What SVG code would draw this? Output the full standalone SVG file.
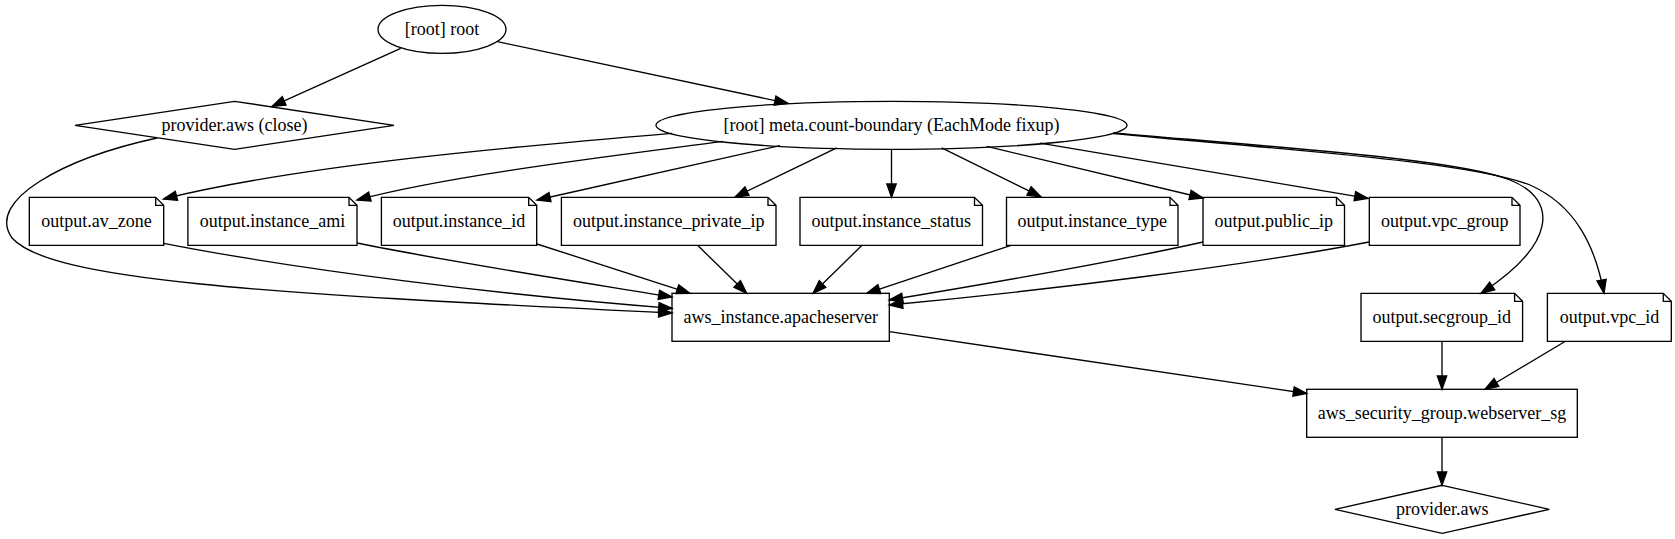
<svg xmlns="http://www.w3.org/2000/svg" width="1675" height="539" viewBox="0 0 1675 539">
<style>
.n{fill:none;stroke:#000;stroke-width:1.33}
.e{fill:none;stroke:#000;stroke-width:1.33;marker-end:url(#ah)}
text{font-family:"Liberation Serif","Times New Roman",serif;font-size:18px;text-anchor:middle;fill:#000}
</style>
<defs>
<marker id="ah" markerUnits="userSpaceOnUse" markerWidth="16" markerHeight="12" refX="13.33" refY="5" orient="auto" overflow="visible">
<path d="M0,0.33 L13.33,5 L0,9.67 Z" fill="#000" stroke="#000" stroke-width="1.33"/>
</marker>
</defs>
<rect width="1675" height="539" fill="#fff"/>
<g id="edges">
<path class="e" d="M400.7,48.3 L272,106.4"/>
<path class="e" d="M497.5,41.7 L788,103.4"/>
<path class="e" d="M157,138 C65,158 -15,200 12,238 C50,280 250,293 672,313"/>
<path class="e" d="M672,133.3 C520,146 300,165 163.5,199"/>
<path class="e" d="M723,141.3 C620,155 450,175 357,200"/>
<path class="e" d="M780,145.6 L537,200"/>
<path class="e" d="M836.7,147.8 L735,197"/>
<path class="e" d="M891.5,149.3 L891.5,197.3"/>
<path class="e" d="M941.7,147.9 L1041,196.8"/>
<path class="e" d="M986.7,146.4 L1203,198"/>
<path class="e" d="M1040,143.1 L1368,198.3"/>
<path class="e" d="M1113,132.8 C1300,149 1460,160 1510,180 C1560,200 1555,245 1481,293.3"/>
<path class="e" d="M1113,133.5 C1300,151 1470,162 1530,185 C1575,205 1595,245 1604,293.3"/>
<path class="e" d="M163.7,243.3 C300,270 500,295 672,308.3"/>
<path class="e" d="M357,243 C450,262 580,282 672,297"/>
<path class="e" d="M537,244 L690,293.3"/>
<path class="e" d="M697.6,245.3 L746.7,293.3"/>
<path class="e" d="M862,245.3 L813,293.3"/>
<path class="e" d="M1011,245.3 L866.7,293.3"/>
<path class="e" d="M1203,242 C1100,265 980,285 889.3,300"/>
<path class="e" d="M1369,242 C1250,265 1050,290 889.3,305"/>
<path class="e" d="M889.3,331.7 L1306.7,393.5"/>
<path class="e" d="M1442,341.3 L1442,389.3"/>
<path class="e" d="M1565,341.5 L1485,389.3"/>
<path class="e" d="M1442,437.3 L1442,485.3"/>
</g>
<g id="root">
<ellipse class="n" cx="442" cy="29.3" rx="64" ry="24"/>
<text x="442" y="35">[root] root</text>
</g>
<g id="provider_close">
<polygon class="n" points="234.5,101.3 394,125.3 234.5,149.3 75,125.3"/>
<text x="234.5" y="131">provider.aws (close)</text>
</g>
<g id="meta">
<ellipse class="n" cx="891.5" cy="125.3" rx="235.5" ry="24"/>
<text x="891.5" y="131">[root] meta.count-boundary (EachMode fixup)</text>
</g>
<g id="out_av_zone">
<path class="n" d="M29.3,197.3 H155.7 L163.7,205.3 V245.3 H29.3 Z M155.7,197.3 V205.3 H163.7"/>
<text x="96.5" y="227">output.av_zone</text>
</g>
<g id="out_instance_ami">
<path class="n" d="M187.9,197.3 H349 L357,205.3 V245.3 H187.9 Z M349,197.3 V205.3 H357"/>
<text x="272.5" y="227">output.instance_ami</text>
</g>
<g id="out_instance_id">
<path class="n" d="M381.4,197.3 H528.7 L536.7,205.3 V245.3 H381.4 Z M528.7,197.3 V205.3 H536.7"/>
<text x="459" y="227">output.instance_id</text>
</g>
<g id="out_instance_private_ip">
<path class="n" d="M561.4,197.3 H768 L776,205.3 V245.3 H561.4 Z M768,197.3 V205.3 H776"/>
<text x="668.7" y="227">output.instance_private_ip</text>
</g>
<g id="out_instance_status">
<path class="n" d="M800,197.3 H974.5 L982.5,205.3 V245.3 H800 Z M974.5,197.3 V205.3 H982.5"/>
<text x="891.2" y="227">output.instance_status</text>
</g>
<g id="out_instance_type">
<path class="n" d="M1006.5,197.3 H1170 L1178,205.3 V245.3 H1006.5 Z M1170,197.3 V205.3 H1178"/>
<text x="1092.2" y="227">output.instance_type</text>
</g>
<g id="out_public_ip">
<path class="n" d="M1203,197.3 H1336.5 L1344.5,205.3 V245.3 H1203 Z M1336.5,197.3 V205.3 H1344.5"/>
<text x="1273.7" y="227">output.public_ip</text>
</g>
<g id="out_vpc_group">
<path class="n" d="M1369.3,197.3 H1512 L1520,205.3 V245.3 H1369.3 Z M1512,197.3 V205.3 H1520"/>
<text x="1444.7" y="227">output.vpc_group</text>
</g>
<g id="aws_instance_apacheserver">
<rect class="n" x="672" y="293.3" width="217.3" height="48"/>
<text x="780.7" y="323">aws_instance.apacheserver</text>
</g>
<g id="out_secgroup_id">
<path class="n" d="M1361,293.3 H1514.6 L1522.6,301.3 V341.3 H1361 Z M1514.6,293.3 V301.3 H1522.6"/>
<text x="1441.8" y="323">output.secgroup_id</text>
</g>
<g id="out_vpc_id">
<path class="n" d="M1547.4,293.3 H1663.3 L1671.3,301.3 V341.3 H1547.4 Z M1663.3,293.3 V301.3 H1671.3"/>
<text x="1609.4" y="323">output.vpc_id</text>
</g>
<g id="aws_security_group_webserver_sg">
<rect class="n" x="1306.7" y="389.3" width="270.6" height="48"/>
<text x="1442" y="419">aws_security_group.webserver_sg</text>
</g>
<g id="provider_aws">
<polygon class="n" points="1442.2,485.3 1549.3,509.3 1442.2,533.3 1335,509.3"/>
<text x="1442.2" y="515">provider.aws</text>
</g>
</svg>
